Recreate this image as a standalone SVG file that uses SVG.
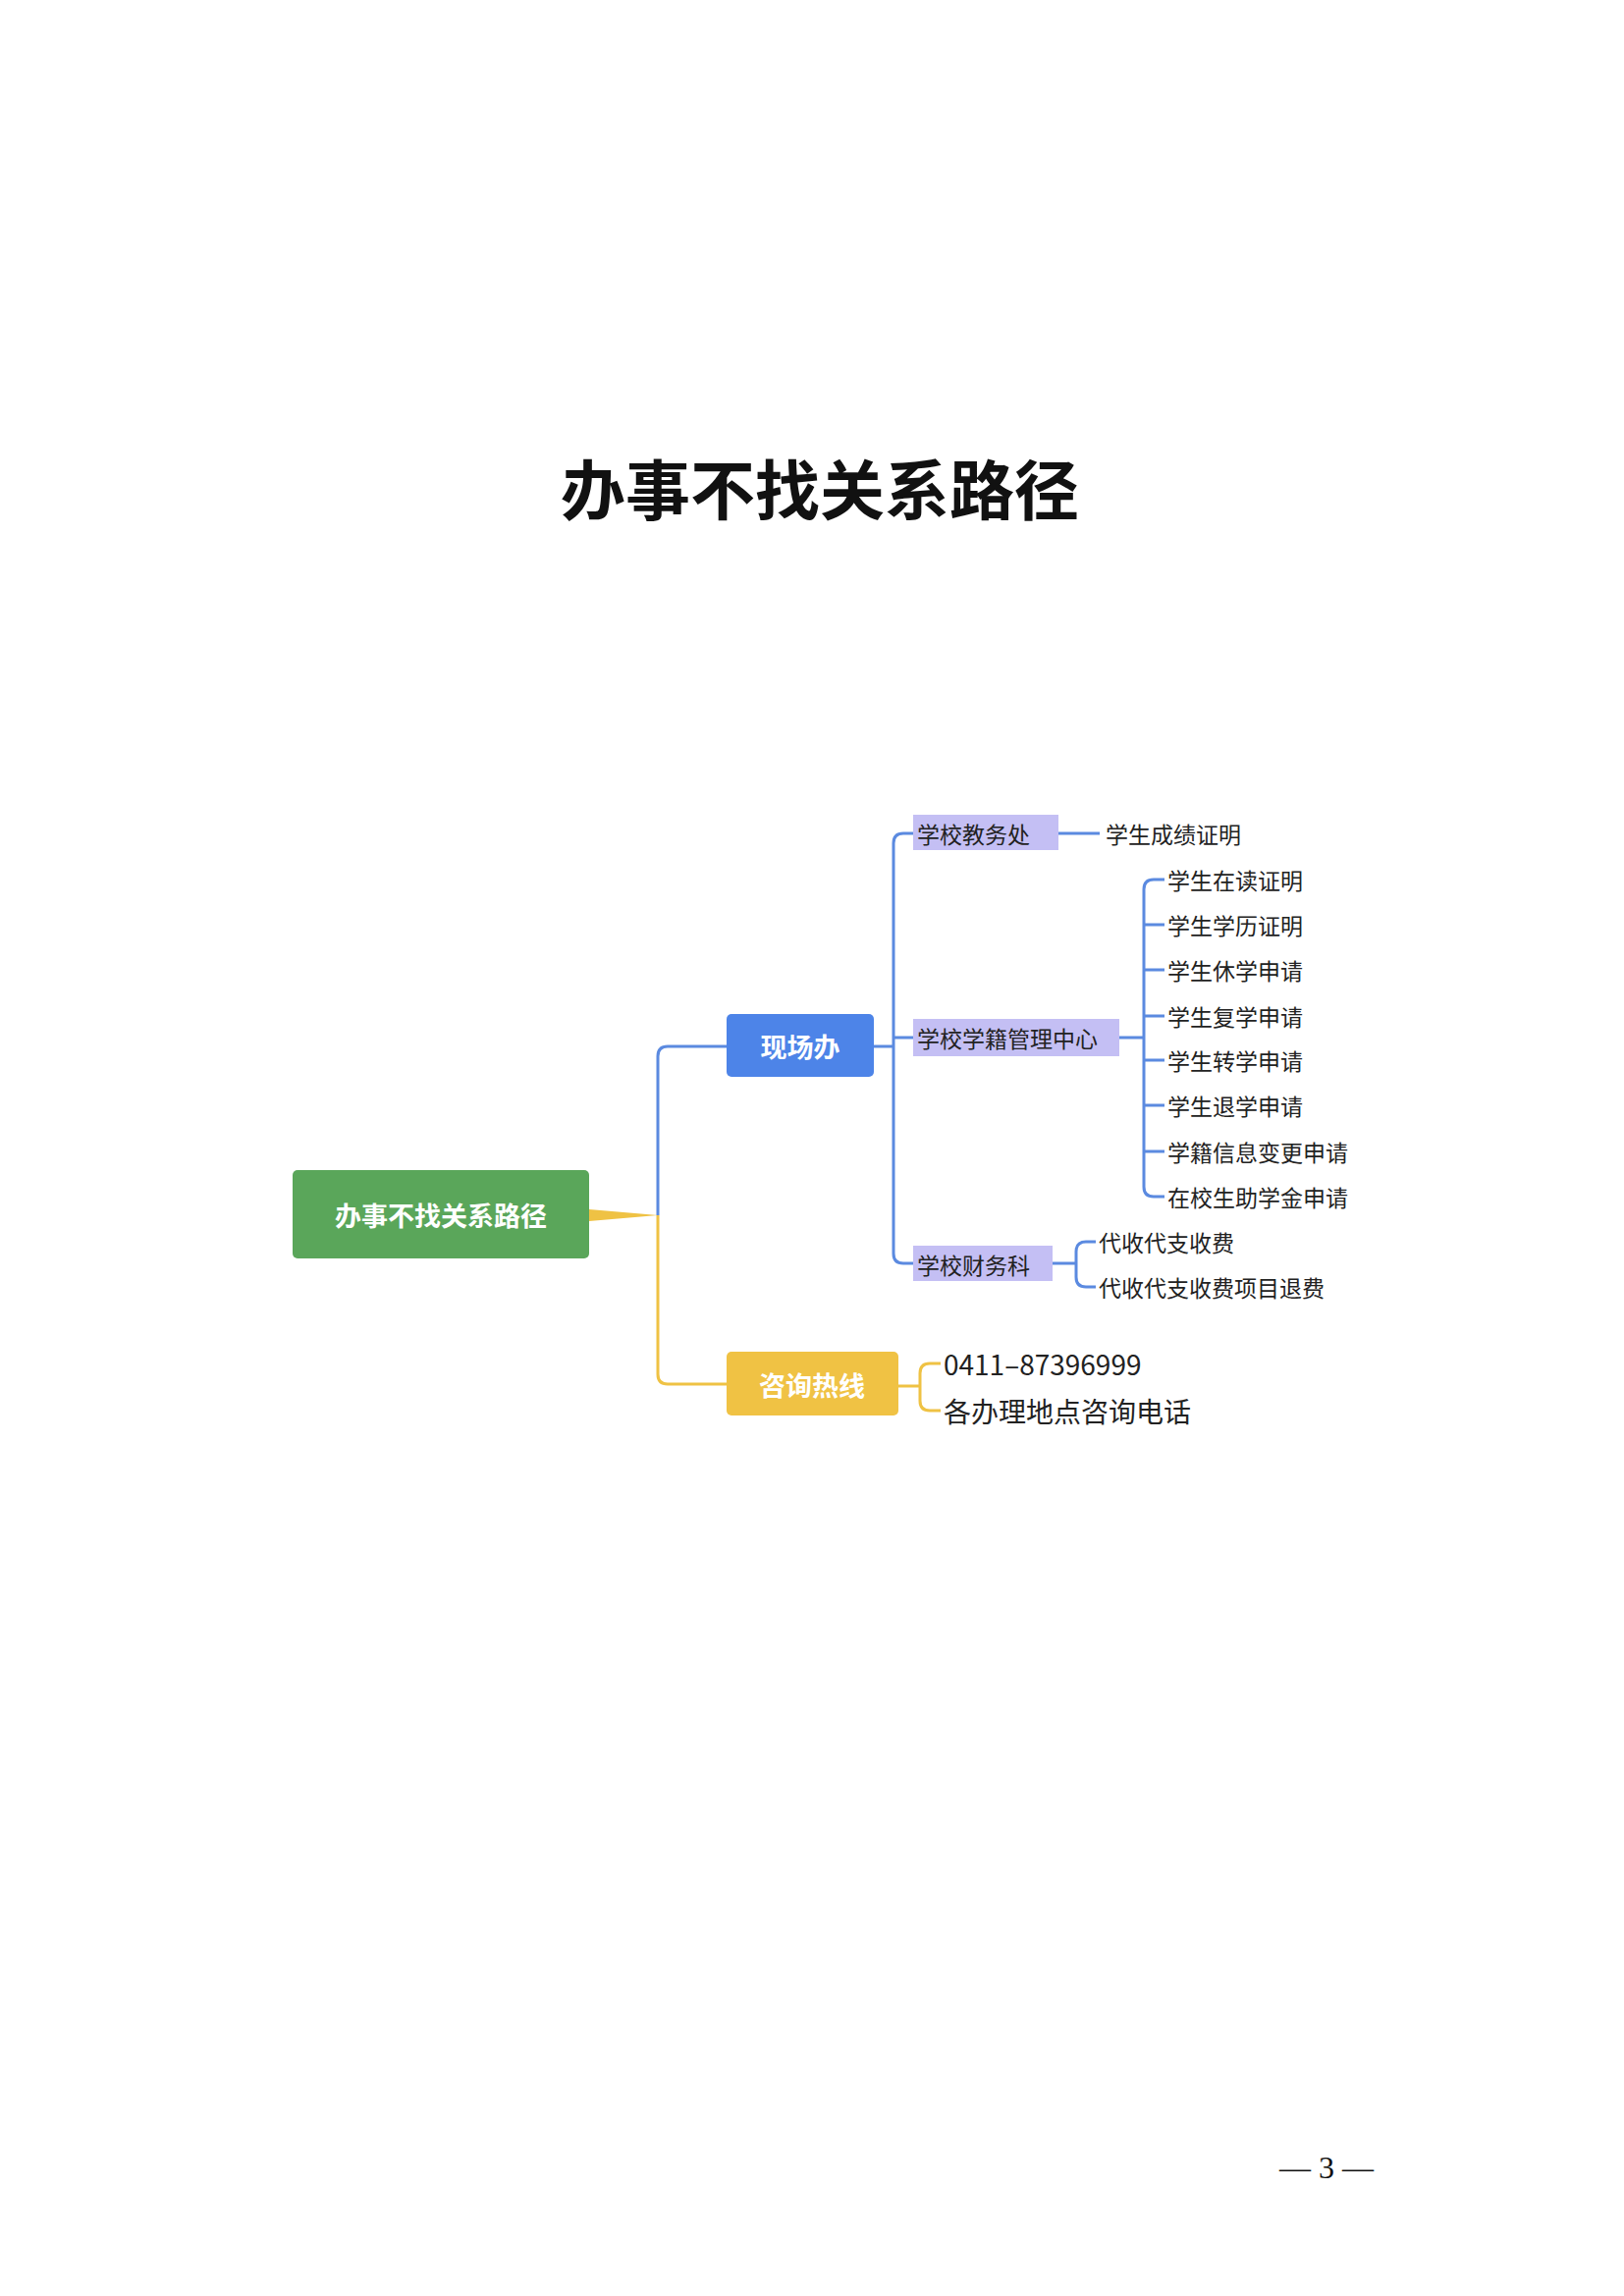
<svg xmlns="http://www.w3.org/2000/svg" width="1654" height="2339" viewBox="0 0 1654 2339">
<style>
.t{font-family:"Noto Sans CJK SC","Liberation Sans",sans-serif;fill:#222}
.w{font-family:"Noto Sans CJK SC","Liberation Sans",sans-serif;fill:#fff;font-size:27px;font-weight:bold;text-anchor:middle;dominant-baseline:central}
.s{font-size:23px;dominant-baseline:central}
.b{fill:none;stroke:#5b8ae0;stroke-width:3}
.y{fill:none;stroke:#efc244;stroke-width:3}
.lav{fill:#c4bff4}
</style>
<rect width="1654" height="2339" fill="#fff"/>
<text x="835" y="495" font-family="'Noto Sans CJK SC',serif" font-size="66" font-weight="bold" text-anchor="middle" dominant-baseline="central" fill="#111">办事不找关系路径</text>
<g id="connectors">
<path d="M600 1232 L670 1238 L600 1244 Z" fill="#efc244"/>
<path class="b" d="M670 1238 V1076 Q670 1066 680 1066 H740"/>
<path class="y" d="M670 1238 V1400 Q670 1410 680 1410 H740"/>
<path class="b" d="M890 1066 H910 M920 849 Q910 849 910 859 V1277 Q910 1287 920 1287 H930 M910 1057 H930 M920 849 H930"/>
<path class="b" d="M1078 849 H1120"/>
<path class="b" d="M1140 1057 H1165 M1175 896 Q1165 896 1165 906 V1209 Q1165 1219 1175 1219 H1186 M1165 942 H1186 M1165 988 H1186 M1165 1035 H1186 M1165 1080 H1186 M1165 1126 H1186 M1165 1173 H1186 M1175 896 H1186"/>
<path class="b" d="M1072 1287 H1096 M1106 1265 Q1096 1265 1096 1275 V1301 Q1096 1311 1106 1311 H1116 M1106 1265 H1116"/>
<path class="y" d="M915 1412 H937 M947 1389 Q937 1389 937 1399 V1427 Q937 1437 947 1437 H958 M947 1389 H958"/>
</g>
<g id="root"><rect x="298" y="1192" width="302" height="90" rx="5" fill="#5aa65a"/><text class="w" x="449" y="1237">办事不找关系路径</text></g>
<g id="xcb"><rect x="740" y="1033" width="150" height="64" rx="5" fill="#4d84e8"/><text class="w" x="815" y="1065">现场办</text></g>
<g id="zxrx"><rect x="740" y="1377" width="175" height="65" rx="5" fill="#f0c244"/><text class="w" x="827" y="1410">咨询热线</text></g>
<g id="jwc"><rect class="lav" x="930" y="830" width="148" height="36"/><text class="t s" x="934" y="849">学校教务处</text></g>
<g id="xj"><rect class="lav" x="930" y="1038" width="210" height="38"/><text class="t s" x="934" y="1057">学校学籍管理中心</text></g>
<g id="cw"><rect class="lav" x="930" y="1269" width="142" height="36"/><text class="t s" x="934" y="1288">学校财务科</text></g>
<g id="leaves" class="t">
<text class="s" x="1126" y="849">学生成绩证明</text>
<text class="s" x="1189" y="896">学生在读证明</text>
<text class="s" x="1189" y="942">学生学历证明</text>
<text class="s" x="1189" y="988">学生休学申请</text>
<text class="s" x="1189" y="1035">学生复学申请</text>
<text class="s" x="1189" y="1080">学生转学申请</text>
<text class="s" x="1189" y="1126">学生退学申请</text>
<text class="s" x="1189" y="1173">学籍信息变更申请</text>
<text class="s" x="1189" y="1219">在校生助学金申请</text>
<text class="s" x="1119" y="1265">代收代支收费</text>
<text class="s" x="1119" y="1311">代收代支收费项目退费</text>
<text class="s" x="961" y="1389" style="font-size:28px">0411–87396999</text>
<text class="s" x="961" y="1437" style="font-size:28px">各办理地点咨询电话</text>
</g>
<text x="1351" y="2208" font-family="'Liberation Serif',serif" font-size="32" text-anchor="middle" dominant-baseline="central" fill="#111">— 3 —</text>
</svg>
